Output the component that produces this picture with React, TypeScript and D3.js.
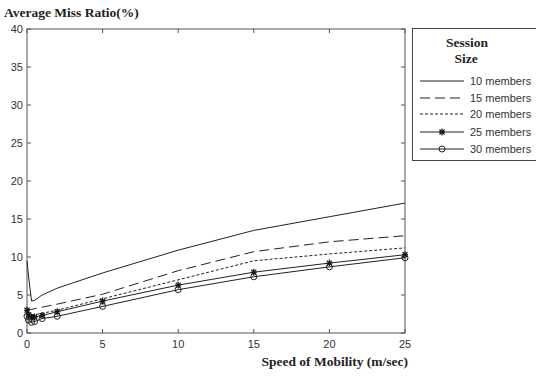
import React from 'react';
import * as d3 from 'd3';

const speeds = [0, 0.1, 0.3, 0.5, 1, 2, 5, 10, 15, 20, 25];
const members10 = [9.5, 7.5, 4.2, 4.3, 5.0, 5.9, 7.9, 10.9, 13.5, 15.3, 17.1];
const members15 = [3.2, 3.1, 3.1, 3.2, 3.4, 3.8, 5.1, 8.2, 10.7, 12.0, 12.8];
const members20 = [2.6, 2.4, 2.3, 2.4, 2.6, 3.0, 4.5, 7.0, 9.5, 10.4, 11.2];
const members25 = [3.0, 2.4, 2.1, 2.1, 2.3, 2.8, 4.2, 6.3, 8.0, 9.2, 10.3];
const members30 = [2.2, 1.7, 1.4, 1.5, 1.9, 2.2, 3.5, 5.7, 7.4, 8.7, 9.9];

const xTicks = [0, 5, 10, 15, 20, 25];
const yTicks = [0, 5, 10, 15, 20, 25, 30, 35, 40];

const seriesNames = ['10 members', '15 members', '20 members', '25 members', '30 members'];
const seriesValues = [members10, members15, members20, members25, members30];
const dashes = ['none', '10,5', '3,2', 'none', 'none'];
const markers = ['none', 'none', 'none', 'star', 'circle'];

const width = 536;
const height = 377;
const plot = { left: 27, right: 405, top: 29, bottom: 333 };

const sans = '"Liberation Sans", Arial, sans-serif';
const serif = '"Liberation Serif", "Times New Roman", serif';

const Star = ({ x, y }: { x: number; y: number }) => (
  <g stroke="#111" strokeWidth={1.2}>
    <line x1={x - 3} x2={x + 3} y1={y} y2={y} />
    <line x1={x} x2={x} y1={y - 3.5} y2={y + 3.5} />
    <line x1={x - 2.5} x2={x + 2.5} y1={y - 2.5} y2={y + 2.5} />
    <line x1={x - 2.5} x2={x + 2.5} y1={y + 2.5} y2={y - 2.5} />
  </g>
);

const App = () => {
  const x = d3.scaleLinear().domain([0, 25]).range([plot.left, plot.right]);
  const y = d3.scaleLinear().domain([0, 40]).range([plot.bottom, plot.top]);
  const line = d3.line<number>().x((_, i) => x(speeds[i])).y(d => y(d));

  const legendY = [81, 98, 114, 132, 149];

  return (
    <svg width={width} height={height} style={{ position: 'absolute', left: 0, top: 0, background: '#fff' }}>
      <text x={4} y={17} fontFamily={serif} fontWeight="bold" fontSize={13.5} fill="#222">
        Average Miss Ratio(%)
      </text>

      {/* frame */}
      <rect x={plot.left} y={plot.top} width={plot.right - plot.left} height={plot.bottom - plot.top}
        fill="#fff" stroke="#555" strokeWidth={1} />

      {/* ticks */}
      {yTicks.map(t => (
        <g key={'y' + t}>
          <line x1={plot.left} x2={plot.left + 4} y1={y(t)} y2={y(t)} stroke="#555" />
          <line x1={plot.right} x2={plot.right - 4} y1={y(t)} y2={y(t)} stroke="#555" />
          <text x={plot.left - 4} y={y(t) + 4} textAnchor="end" fontFamily={sans} fontSize={11} fill="#333">{t}</text>
        </g>
      ))}
      {xTicks.map(t => (
        <g key={'x' + t}>
          <line x1={x(t)} x2={x(t)} y1={plot.bottom} y2={plot.bottom - 4} stroke="#555" />
          <line x1={x(t)} x2={x(t)} y1={plot.top} y2={plot.top + 4} stroke="#555" />
          <text x={x(t)} y={plot.bottom + 15} textAnchor="middle" fontFamily={sans} fontSize={11} fill="#333">{t}</text>
        </g>
      ))}

      <text x={plot.right + 3} y={366} textAnchor="end" fontFamily={serif} fontWeight="bold" fontSize={13.5} fill="#222">
        Speed of Mobility (m/sec)
      </text>

      {/* series */}
      {seriesValues.map((vals, s) => (
        <g key={seriesNames[s]}>
          <path d={line(vals) || ''} fill="none" stroke="#222" strokeWidth={1}
            strokeDasharray={dashes[s] === 'none' ? undefined : dashes[s]} />
          {markers[s] === 'star' && vals.map((v, i) => <Star key={i} x={x(speeds[i])} y={y(v)} />)}
          {markers[s] === 'circle' && vals.map((v, i) => (
            <circle key={i} cx={x(speeds[i])} cy={y(v)} r={3} fill="none" stroke="#222" strokeWidth={1} />
          ))}
        </g>
      ))}

      {/* legend */}
      <rect x={412.5} y={28.5} width={130} height={132} fill="#fff" stroke="#444" strokeWidth={1} />
      <text x={467} y={47} textAnchor="middle" fontFamily={serif} fontWeight="bold" fontSize={13.5} fill="#222">Session</text>
      <text x={466} y={63} textAnchor="middle" fontFamily={serif} fontWeight="bold" fontSize={13.5} fill="#222">Size</text>
      {seriesNames.map((name, s) => (
        <g key={'leg' + name}>
          <line x1={420} x2={464} y1={legendY[s]} y2={legendY[s]} stroke="#222"
            strokeDasharray={dashes[s] === 'none' ? undefined : dashes[s]} />
          {markers[s] === 'star' && <Star x={442} y={legendY[s]} />}
          {markers[s] === 'circle' && <circle cx={442} cy={legendY[s]} r={3} fill="none" stroke="#222" />}
          <text x={470} y={legendY[s] + 4} fontFamily={sans} fontSize={11} fill="#333">{name}</text>
        </g>
      ))}
    </svg>
  );
};

export default App;
